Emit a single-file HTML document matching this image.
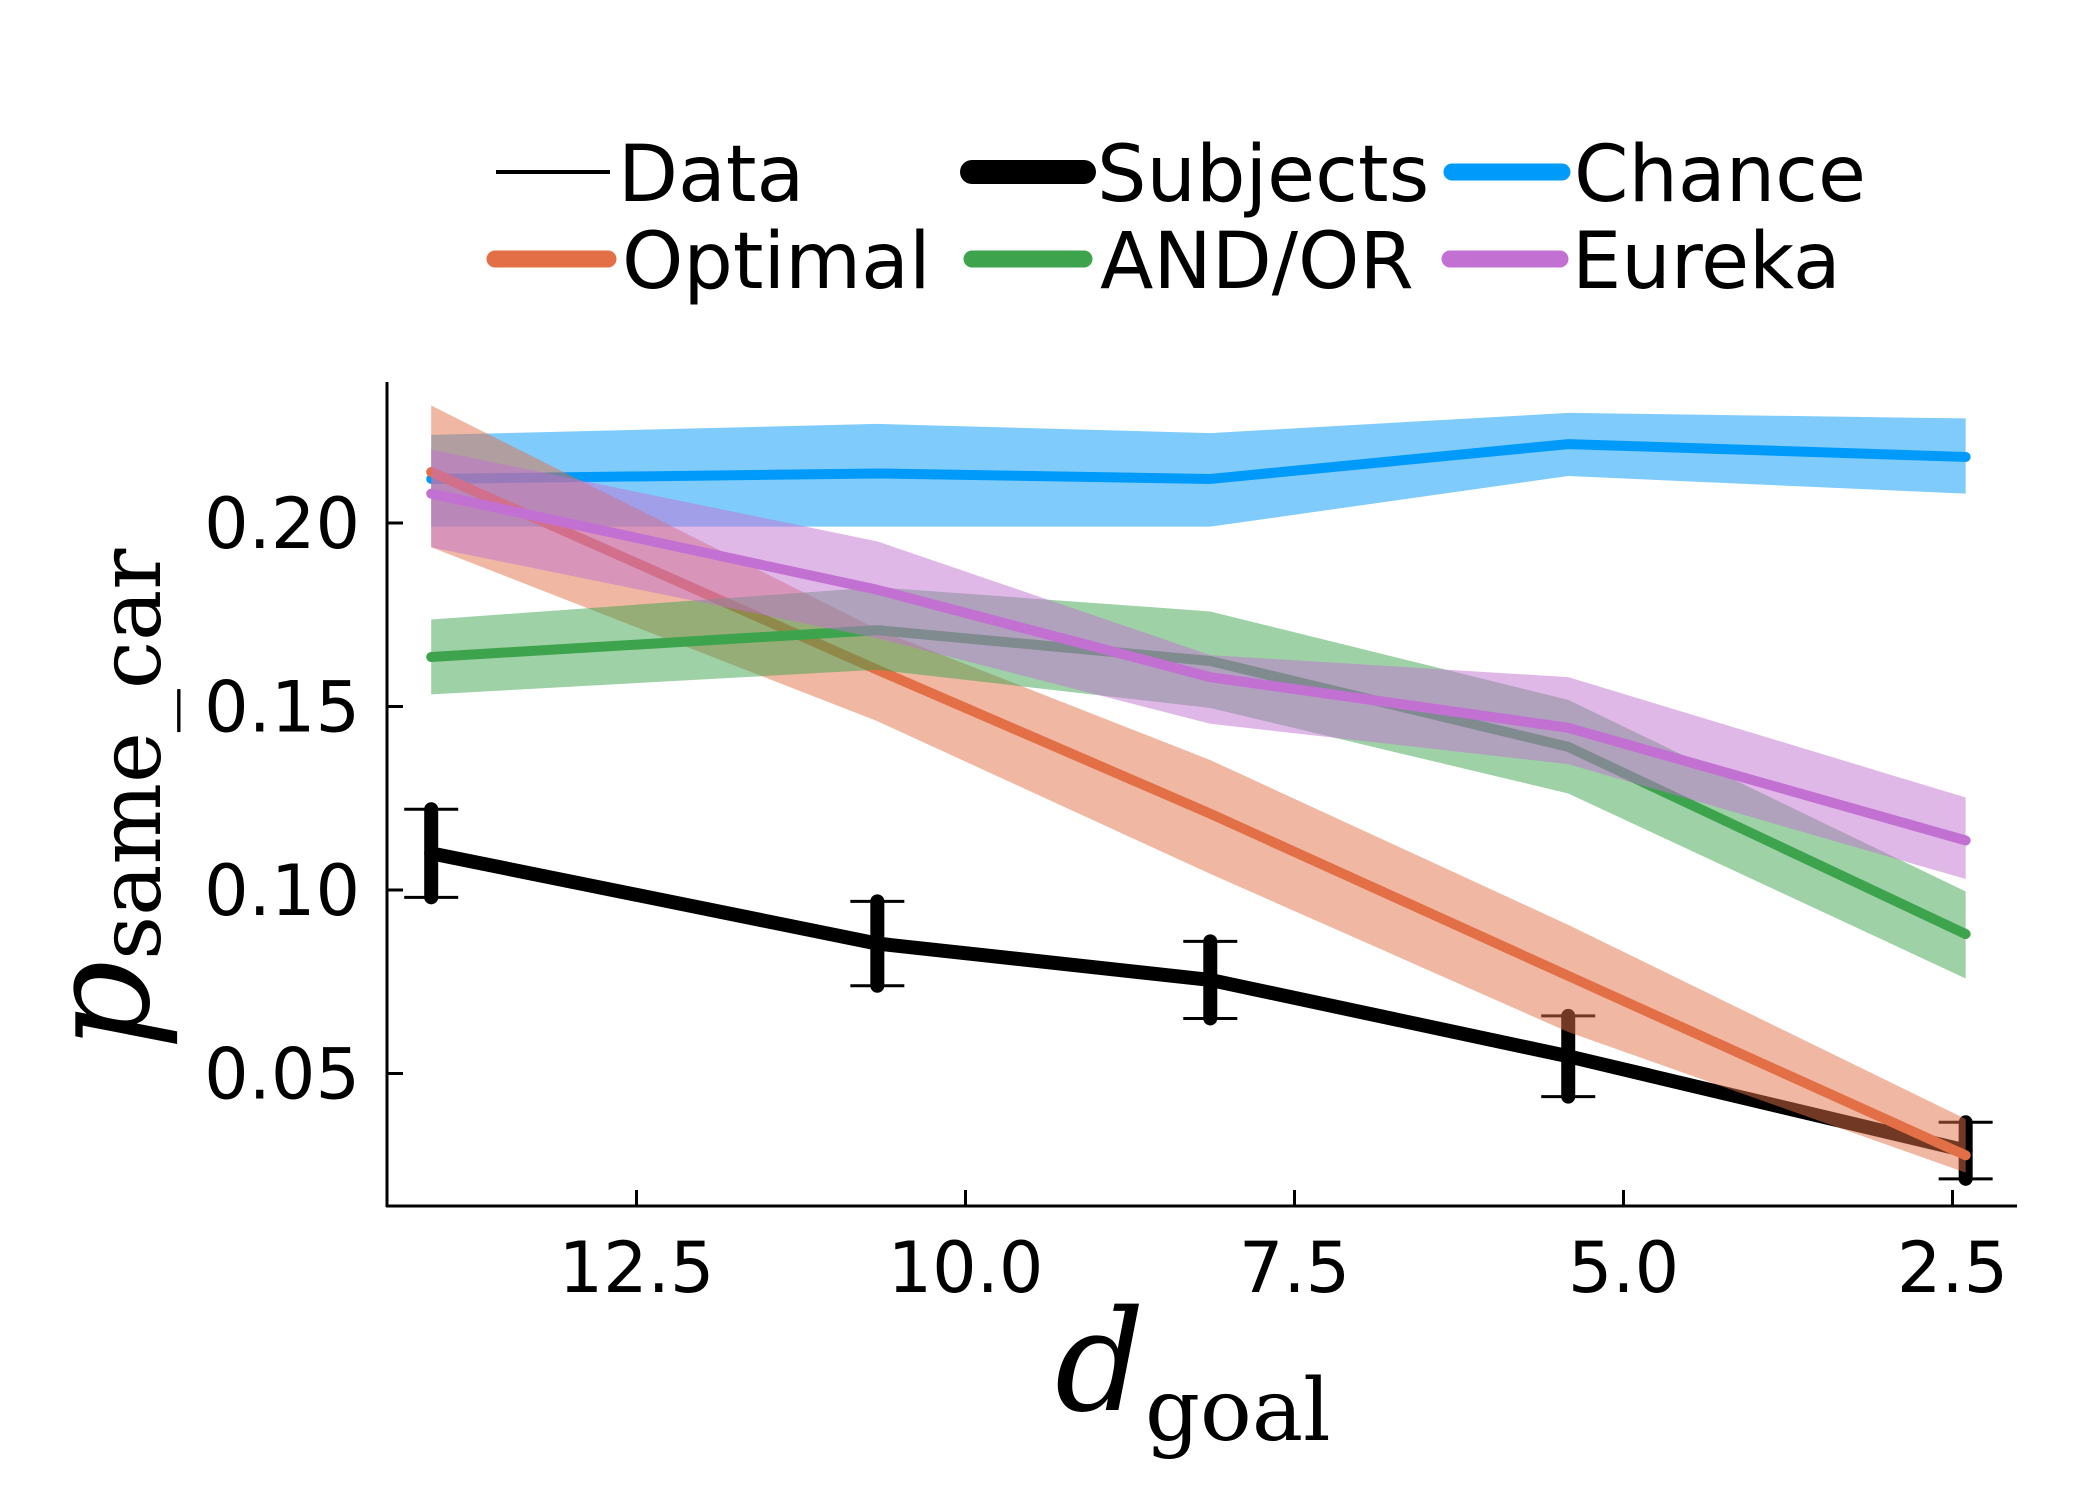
<!DOCTYPE html>
<html><head><meta charset="utf-8"><style>
html,body{margin:0;padding:0;background:#fff;}
svg{display:block;font-family:"DejaVu Sans","Liberation Sans",sans-serif;}
</style></head><body>
<svg id="chart" width="2100" height="1500" viewBox="0 0 2100 1500" xmlns="http://www.w3.org/2000/svg">
<rect width="2100" height="1500" fill="#fff"/>
<g id="series"></g>
<g id="axes"></g>
<g font-size="78">
  <line x1="496" y1="172" x2="610" y2="172" stroke="#000" stroke-width="4"/>
  <text x="618" y="201">Data</text>
  <line x1="972" y1="172" x2="1084" y2="172" stroke="#000" stroke-width="24" stroke-linecap="round"/>
  <text x="1097" y="201">Subjects</text>
  <line x1="1452" y1="172" x2="1562" y2="172" stroke="#009AFA" stroke-width="17" stroke-linecap="round"/>
  <text x="1574" y="201">Chance</text>
  <line x1="495" y1="259" x2="608" y2="259" stroke="#E26F46" stroke-width="17" stroke-linecap="round"/>
  <text x="622" y="288">Optimal</text>
  <line x1="972" y1="259" x2="1084" y2="259" stroke="#3DA44D" stroke-width="17" stroke-linecap="round"/>
  <text x="1100" y="288">AND/OR</text>
  <line x1="1450" y1="259" x2="1560" y2="259" stroke="#C271D2" stroke-width="17" stroke-linecap="round"/>
  <text x="1572" y="288">Eureka</text>
</g>
<g font-family="'DejaVu Serif','Liberation Serif',serif">
  <text transform="translate(148,1050) rotate(-90)" font-size="140" font-style="italic">p</text>
  <text transform="translate(160,960) rotate(-90)" font-size="86">same_car</text>
</g>
<g font-family="'DejaVu Serif','Liberation Serif',serif">
  <text x="1055" y="1410" font-size="140" font-style="italic">d</text>
  <text x="1145" y="1440" font-size="86">goal</text>
</g>
</svg>
<script>
const xValues = [14.06, 10.67, 8.14, 5.42, 2.4];
const subjects = [0.110, 0.0854, 0.0755, 0.0547, 0.0290];
const subjectsErr = [0.012, 0.0115, 0.0105, 0.011, 0.0077];
const chance = [0.212, 0.2135, 0.212, 0.2215, 0.218];
const chanceLo = [0.199, 0.199, 0.199, 0.2128, 0.208];
const chanceHi = [0.224, 0.227, 0.2245, 0.230, 0.2285];
const optimal = [0.2139, 0.160, 0.1208, 0.0766, 0.0277];
const optimalLo = [0.1934, 0.146, 0.1044, 0.0613, 0.023];
const optimalHi = [0.232, 0.171, 0.1354, 0.0905, 0.0376];
const andor = [0.1635, 0.1708, 0.1624, 0.139, 0.088];
const andorLo = [0.1533, 0.160, 0.1496, 0.1263, 0.0759];
const andorHi = [0.1737, 0.1825, 0.1759, 0.1518, 0.0996];
const eureka = [0.208, 0.1818, 0.158, 0.1442, 0.1135];
const eurekaLo = [0.1934, 0.1686, 0.1453, 0.1343, 0.103];
const eurekaHi = [0.220, 0.195, 0.164, 0.158, 0.1252];
const yTicks = [0.05, 0.10, 0.15, 0.20];
const yTickLabels = ["0.05", "0.10", "0.15", "0.20"];
const xTicks = [12.5, 10.0, 7.5, 5.0, 2.5];
const xTickLabels = ["12.5", "10.0", "7.5", "5.0", "2.5"];

const NS = "http://www.w3.org/2000/svg";
function X(d){ return 636.5 + (12.5 - d) / 2.5 * 329; }
function Y(v){ return 523 + (0.20 - v) / 0.05 * 183.5; }
function mk(tag, attrs, parent){
  const e = document.createElementNS(NS, tag);
  for (const k in attrs) e.setAttribute(k, attrs[k]);
  parent.appendChild(e); return e;
}
const series = document.getElementById('series');
const axes = document.getElementById('axes');

function band(lo, hi, color, name){
  let d = '';
  xValues.forEach((x,i)=>{ d += (i?'L':'M') + X(x) + ' ' + Y(hi[i]) + ' '; });
  for (let i = xValues.length-1; i >= 0; i--) d += 'L' + X(xValues[i]) + ' ' + Y(lo[i]) + ' ';
  const p = mk('path', {d: d + 'Z', fill: color, 'fill-opacity': 0.5}, series);
  
  
}
function line(vals, color, w, name){
  const pts = xValues.map((x,i)=> X(x) + ',' + Y(vals[i])).join(' ');
  const p = mk('polyline', {points: pts, fill: 'none', stroke: color, 'stroke-width': w, 'stroke-linecap': 'round', 'stroke-linejoin': 'round'}, series);
  
  
}

line(subjects, '#000', 14, 'subjects-line');
xValues.forEach((x,i)=>{
  const g = mk('g', {}, series);
  
  
  const top = Y(subjects[i] + subjectsErr[i]), bot = Y(subjects[i] - subjectsErr[i]);
  mk('line', {x1: X(x), x2: X(x), y1: top, y2: bot, stroke: '#000', 'stroke-width': 14, 'stroke-linecap': 'round'}, g);
  mk('line', {x1: X(x)-27, x2: X(x)+27, y1: top, y2: top, stroke: '#000', 'stroke-width': 3}, g);
  mk('line', {x1: X(x)-27, x2: X(x)+27, y1: bot, y2: bot, stroke: '#000', 'stroke-width': 3}, g);
});
band(chanceLo, chanceHi, '#009AFA', 'chance-band');
line(chance, '#009AFA', 10, 'chance-line');
band(optimalLo, optimalHi, '#E26F46', 'optimal-band');
line(optimal, '#E26F46', 10, 'optimal-line');
band(andorLo, andorHi, '#3DA44D', 'andor-band');
line(andor, '#3DA44D', 10, 'andor-line');
band(eurekaLo, eurekaHi, '#C271D2', 'eureka-band');
line(eureka, '#C271D2', 10, 'eureka-line');

const yAxis = mk('line', {x1: 387, x2: 387, y1: 382, y2: 1207, stroke: '#000', 'stroke-width': 3}, axes);


const xAxis = mk('line', {x1: 386, x2: 2017, y1: 1206, y2: 1206, stroke: '#000', 'stroke-width': 3}, axes);


yTicks.forEach((v,i)=>{
  mk('line', {x1: 387, x2: 403, y1: Y(v), y2: Y(v), stroke: '#000', 'stroke-width': 3}, axes);
  const t = mk('text', {x: 360, y: Y(v) + 25, 'text-anchor': 'end', 'font-size': 70}, axes);
  
  
  t.textContent = yTickLabels[i];
});
xTicks.forEach((d,i)=>{
  mk('line', {x1: X(d), x2: X(d), y1: 1206, y2: 1190, stroke: '#000', 'stroke-width': 3}, axes);
  const t = mk('text', {x: X(d), y: 1292, 'text-anchor': 'middle', 'font-size': 70}, axes);
  
  
  t.textContent = xTickLabels[i];
});
</script>
</body></html>
